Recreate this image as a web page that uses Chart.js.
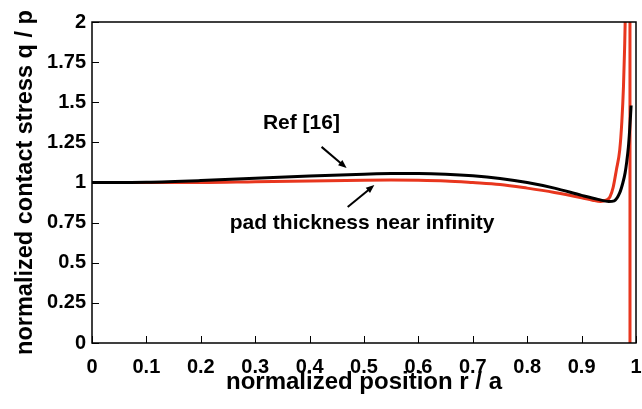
<!DOCTYPE html>
<html>
<head>
<meta charset="utf-8">
<script src="https://cdn.jsdelivr.net/npm/chart.js@4/dist/chart.umd.min.js"></script>
<style>
  html, body { margin: 0; padding: 0; background: #fff; }
  #wrap { width: 642px; height: 409px; }
</style>
</head>
<body>
<div id="wrap"><canvas id="chart"></canvas></div>
<script>
// tick labels
const xTicks = [0, 0.1, 0.2, 0.3, 0.4, 0.5, 0.6, 0.7, 0.8, 0.9, 1];
const yTicks = [0, 0.25, 0.5, 0.75, 1, 1.25, 1.5, 1.75, 2];

// Ref [16] curve (black)
const refX = [0, 0.1, 0.2, 0.3, 0.4, 0.5, 0.55, 0.6, 0.65, 0.7, 0.75, 0.8, 0.85, 0.9, 0.93, 0.95, 0.96, 0.97, 0.976, 0.98, 0.983, 0.986, 0.988, 0.99, 0.991];
const refY = [1.0, 1.002, 1.012, 1.026, 1.04, 1.052, 1.056, 1.056, 1.052, 1.042, 1.025, 1.0, 0.965, 0.92, 0.895, 0.882, 0.886, 0.935, 1.0, 1.06, 1.13, 1.22, 1.31, 1.42, 1.48];

// pad thickness near infinity (red)
const padX = [0, 0.1, 0.2, 0.3, 0.4, 0.5, 0.55, 0.6, 0.65, 0.7, 0.75, 0.8, 0.85, 0.9, 0.92, 0.935, 0.945, 0.952, 0.958, 0.964, 0.97, 0.974, 0.977, 0.979, 0.981, 0.984, 0.9888, 0.989];
const padY = [1.0, 1.0, 1.0, 1.005, 1.01, 1.014, 1.015, 1.014, 1.01, 1.0, 0.988, 0.965, 0.938, 0.905, 0.89, 0.882, 0.89, 0.91, 0.97, 1.08, 1.2, 1.38, 1.6, 1.83, 2.15, 3, 5, -1];

const toPoints = (xs, ys) => xs.map((x, i) => ({ x: x, y: ys[i] }));

const FONT = "'Liberation Sans', Arial, Helvetica, sans-serif";

// annotation texts and arrows, in data coordinates
const notes = [
  { text: "Ref [16]", x: 0.385, y: 1.368, from: [0.422, 1.222], to: [0.468, 1.09] },
  { text: "pad thickness near infinity", x: 0.4965, y: 0.745, from: [0.470, 0.847], to: [0.519, 0.984] }
];

const framePlugin = {
  id: "frame",
  afterDraw(chart) {
    const { ctx, chartArea: a, scales } = chart;
    ctx.save();
    ctx.strokeStyle = "#000";
    ctx.lineWidth = 1;
    // inward ticks
    ctx.beginPath();
    scales.x.ticks.forEach(t => {
      const px = Math.round(scales.x.getPixelForValue(t.value)) + 0.5;
      ctx.moveTo(px, a.bottom);
      ctx.lineTo(px, a.bottom - 7);
    });
    scales.y.ticks.forEach(t => {
      const py = Math.round(scales.y.getPixelForValue(t.value)) + 0.5;
      ctx.moveTo(a.left, py);
      ctx.lineTo(a.left + 7, py);
    });
    ctx.stroke();
    // box
    ctx.lineWidth = 1.5;
    ctx.strokeRect(a.left, a.top, a.right - a.left, a.bottom - a.top);

    // annotations
    ctx.fillStyle = "#000";
    ctx.font = "bold 21px " + FONT;
    ctx.textAlign = "center";
    ctx.textBaseline = "middle";
    notes.forEach(n => {
      ctx.fillText(n.text, scales.x.getPixelForValue(n.x), scales.y.getPixelForValue(n.y));
      const x1 = scales.x.getPixelForValue(n.from[0]);
      const y1 = scales.y.getPixelForValue(n.from[1]);
      const x2 = scales.x.getPixelForValue(n.to[0]);
      const y2 = scales.y.getPixelForValue(n.to[1]);
      const ang = Math.atan2(y2 - y1, x2 - x1);
      const head = 9;
      ctx.lineWidth = 2;
      ctx.beginPath();
      ctx.moveTo(x1, y1);
      ctx.lineTo(x2 - Math.cos(ang) * head * 0.8, y2 - Math.sin(ang) * head * 0.8);
      ctx.stroke();
      ctx.beginPath();
      ctx.moveTo(x2, y2);
      ctx.lineTo(x2 - head * Math.cos(ang - 0.38), y2 - head * Math.sin(ang - 0.38));
      ctx.lineTo(x2 - head * Math.cos(ang + 0.38), y2 - head * Math.sin(ang + 0.38));
      ctx.closePath();
      ctx.fill();
    });
    ctx.restore();
  }
};

new Chart(document.getElementById("chart").getContext("2d"), {
  type: "line",
  data: {
    datasets: [
      {
        label: "Ref [16]",
        data: toPoints(refX, refY),
        borderColor: "#000000",
        borderWidth: 3,
        pointRadius: 0,
        cubicInterpolationMode: "monotone",
        fill: false
      },
      {
        label: "pad thickness near infinity",
        data: toPoints(padX, padY),
        borderColor: "#e8361e",
        borderWidth: 3,
        pointRadius: 0,
        cubicInterpolationMode: "monotone",
        fill: false
      }
    ]
  },
  options: {
    responsive: true,
    maintainAspectRatio: false,
    animation: false,
    layout: { padding: { top: 22, right: 6, left: 0, bottom: 0 } },
    plugins: { legend: { display: false }, tooltip: { enabled: false } },
    scales: {
      x: {
        type: "linear",
        min: 0,
        max: 1,
        afterBuildTicks: s => { s.ticks = xTicks.map(v => ({ value: v })); },
        afterFit: s => { s.height = 66; s.paddingLeft = 0; s.paddingRight = 0; },
        grid: { display: false, drawTicks: false },
        border: { display: false },
        ticks: {
          color: "#000",
          padding: 12,
          maxRotation: 0,
          font: { family: FONT, size: 20, weight: "bold" },
          callback: v => String(v)
        },
        title: {
          display: true,
          text: "normalized position r / a",
          color: "#000",
          font: { family: FONT, size: 24, weight: "bold" },
          padding: { top: 0, bottom: 12.6 }
        }
      },
      y: {
        min: 0,
        max: 2,
        afterBuildTicks: s => { s.ticks = yTicks.map(v => ({ value: v })); },
        afterFit: s => { s.width = 92; s.paddingTop = 0; s.paddingBottom = 0; },
        grid: { display: false, drawTicks: false },
        border: { display: false },
        ticks: {
          color: "#000",
          padding: 6,
          font: { family: FONT, size: 20, weight: "bold" },
          callback: v => String(v)
        },
        title: {
          display: true,
          text: "normalized contact stress q / p",
          color: "#000",
          font: { family: FONT, size: 23.5, weight: "bold" },
          padding: { top: 11.9, bottom: 0 }
        }
      }
    }
  },
  plugins: [framePlugin]
});
</script>
</body>
</html>
